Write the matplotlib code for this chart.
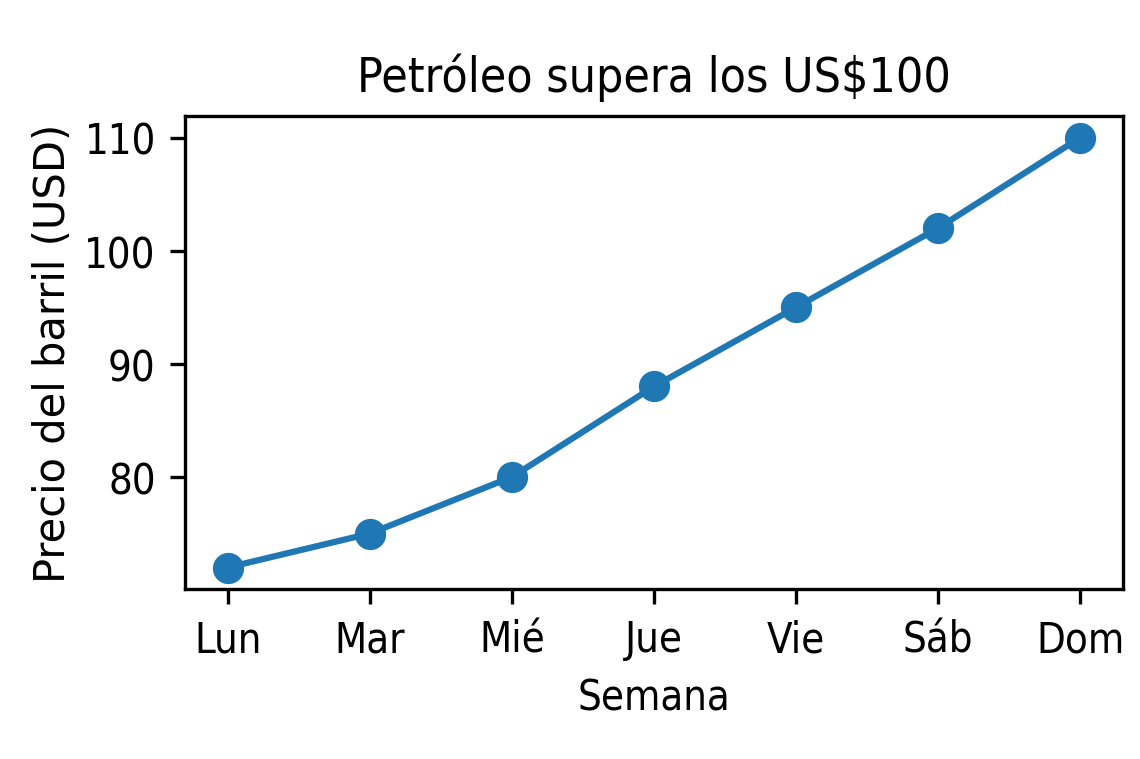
import matplotlib
matplotlib.use("Agg")
import matplotlib.pyplot as plt

# Datos de la semana
dias = ["Lun", "Mar", "Mié", "Jue", "Vie", "Sáb", "Dom"]
precios = [72, 75, 80, 88, 95, 102, 110]

plt.rcParams["font.family"] = ["DejaVu Sans"]
plt.rcParams["font.stretch"] = "condensed"

fig = plt.figure(figsize=(3.8, 2.5333), dpi=300)
ax = fig.add_axes([185 / 1140, 1 - 590 / 760, 938 / 1140, 473 / 760])

ax.plot(dias, precios, marker="o", markersize=6.5)

ax.set_title("Petróleo supera los US$100", fontsize=11.5)
ax.set_xlabel("Semana")
# la etiqueta vertical no se ve comprimida en la referencia
ax.set_ylabel("Precio del barril (USD)", fontstretch="normal", fontsize=10,
              labelpad=2.5)

fig.savefig("out.png", dpi=300)
plt.close(fig)
